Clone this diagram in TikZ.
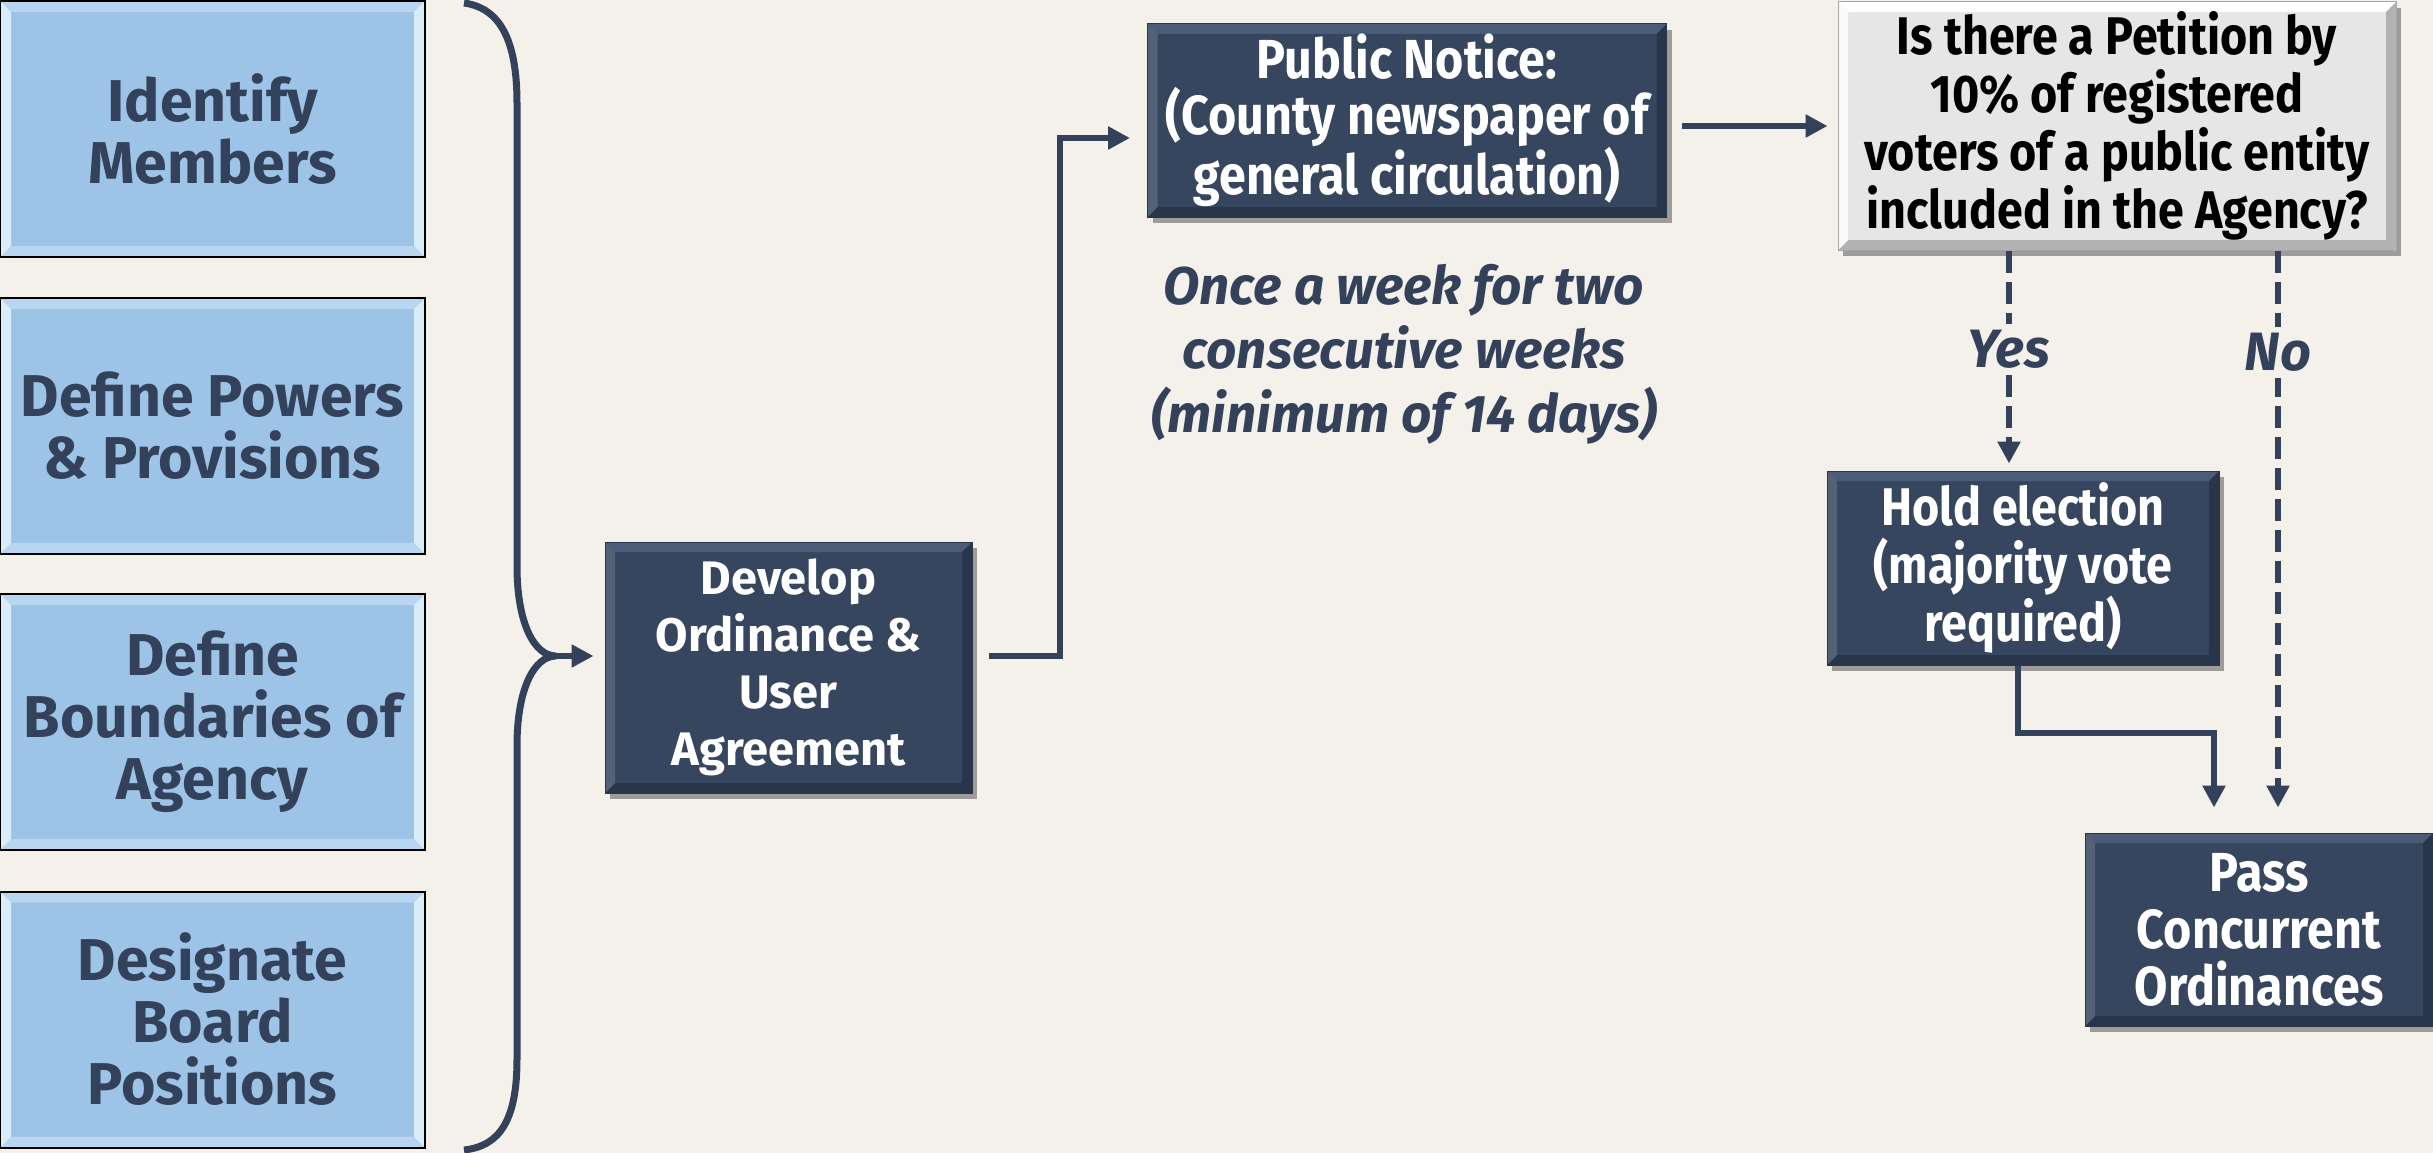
\documentclass[tikz,border=0pt]{standalone}
\usepackage{fontspec}
\setmainfont{Fira Sans}
\newfontfamily\condfont[FakeStretch=0.88]{Fira Sans}
\usetikzlibrary{arrows.meta,shadows,calc}
\definecolor{bg}{HTML}{F4F1EA}
\definecolor{navy}{HTML}{36465F}
\definecolor{navyhi}{HTML}{4B5C78}
\definecolor{navylo}{HTML}{28354A}
\definecolor{navyline}{HTML}{33425A}
\definecolor{lblue}{HTML}{9DC3E6}
\definecolor{lbluehi}{HTML}{B8D6F0}
\definecolor{lblueside}{HTML}{D8ECFA}
\definecolor{lgrey}{HTML}{E6E6E6}
\tikzset{
  bevel/.style n args={5}{path picture={
    \coordinate (pa) at (path picture bounding box.north west);
    \coordinate (pb) at (path picture bounding box.north east);
    \coordinate (pc) at (path picture bounding box.south east);
    \coordinate (pd) at (path picture bounding box.south west);
    \fill[#1] (pa) -- (pb) -- ([xshift=-#5,yshift=-#5]pb) -- ([xshift=#5,yshift=-#5]pa) -- cycle;
    \fill[#2] (pd) -- (pc) -- ([xshift=-#5,yshift=#5]pc) -- ([xshift=#5,yshift=#5]pd) -- cycle;
    \fill[#3] (pa) -- (pd) -- ([xshift=#5,yshift=#5]pd) -- ([xshift=#5,yshift=-#5]pa) -- cycle;
    \fill[#4] (pb) -- (pc) -- ([xshift=-#5,yshift=#5]pc) -- ([xshift=-#5,yshift=-#5]pb) -- cycle;
  }},
  leftbox/.style={fill=lblue, draw=black, line width=2pt, minimum width=425pt,
    minimum height=256pt, inner sep=0pt, align=center, text=navyline,
    font=\bfseries\fontsize{59}{62}\selectfont,
    bevel={lbluehi}{lbluehi}{lblueside}{lblueside}{11pt}},
  darkbox/.style={fill=navy, draw=navylo, line width=1pt, inner sep=0pt, align=center, text=white,
    drop shadow={shadow xshift=5pt, shadow yshift=-6pt, opacity=0.35, fill=black},
    bevel={navyhi}{navylo}{navy!85!white}{navylo}{10pt}},
  greybox/.style={fill=lgrey, draw=gray!70, line width=1pt, inner sep=0pt, align=center, text=black,
    drop shadow={shadow xshift=5pt, shadow yshift=-6pt, opacity=0.35, fill=black},
    bevel={white}{gray!60}{white!80!lgrey}{gray!60}{10pt}},
  conn/.style={draw=navyline, line width=6pt, -{Triangle[length=22pt,width=22pt]}},
  dconn/.style={conn, dash pattern=on 22pt off 9pt},
  brace/.style={draw=navyline, line width=7pt},
  note/.style={text=navyline, align=center, font=\bfseries\itshape\fontsize{53}{64}\selectfont},
  lbl/.style={text=navyline, fill=bg, inner sep=6pt, font=\bfseries\itshape\fontsize{54}{58}\selectfont}
}
\begin{document}
\begin{tikzpicture}[x=1pt,y=-1pt]
\fill[bg] (0,0) rectangle (2433,1153);
\useasboundingbox (0,0) rectangle (2433,1153);

% left column
\node[leftbox] (m1) at (212.5,129) {Identify\\Members};
\node[leftbox] (m2) at (212.5,426) {Define Powers\\\& Provisions};
\node[leftbox] (m3) at (212.5,722) {Define\\Boundaries of\\Agency};
\node[leftbox] (m4) at (212.5,1019.5) {Designate\\Board\\Positions};

% brace
\coordinate (bracetip) at (556,656);
\draw[brace] (464,3) .. controls (500,8) and (517,40) .. (517,103)
  -- (517,566) .. controls (517,625) and (535,656) .. (bracetip)
  .. controls (535,656) and (517,687) .. (517,746)
  -- (517,1059) .. controls (517,1120) and (500,1146) .. (464,1150);

% main boxes
\node[darkbox, minimum width=367pt, minimum height=251pt,
  font=\bfseries\fontsize{47}{57}\selectfont] (dev) at (788.5,667.5)
  {Develop\\Ordinance \&\\User\\Agreement};
\node[darkbox, minimum width=519pt, minimum height=193pt,
  font=\condfont\bfseries\fontsize{55}{56}\selectfont] (pub) at (1407,120.5)
  {Public Notice:\\(County newspaper of\\general circulation)};
\node[note] (wk) at (1404,354) {Once a week for two\\consecutive weeks\\(minimum of 14 days)};
\node[greybox, minimum width=558pt, minimum height=248pt,
  font=\condfont\bfseries\fontsize{53}{58}\selectfont] (pet) at (2117,126)
  {Is there a Petition by\\10\% of registered\\voters of a public entity\\included in the Agency?};
\node[darkbox, minimum width=392pt, minimum height=194pt,
  font=\condfont\bfseries\fontsize{53}{58}\selectfont] (hold) at (2023,568)
  {Hold election\\(majority vote\\required)};
\node[darkbox, minimum width=348pt, minimum height=193pt,
  font=\condfont\bfseries\fontsize{55}{57}\selectfont] (pass) at (2259,929.5)
  {Pass\\Concurrent\\Ordinances};

% connectors
\draw[conn, shorten >=11pt] (bracetip) -- (bracetip -| dev.west);
\coordinate (b1) at (1060,656);
\coordinate (b2) at (1060,138);
\draw[conn, shorten >=17pt] ([xshift=16pt]dev.east |- b1) -- (b1) -- (b2) -- (b2 -| pub.west);
\draw[conn, shorten >=10pt] ([xshift=15pt]pub.east |- pet.west) -- (pet.west);

\draw[dconn, shorten >=7pt] ([xshift=-14pt]hold.north |- pet.south) -- ([xshift=-14pt]hold.north)
  node[lbl, pos=0.45] (yes) {Yes};
\draw[dconn, shorten >=25pt] ([xshift=19pt]pass.north |- pet.south) -- ([xshift=19pt]pass.north)
  node[lbl, pos=0.175] (no) {No};

\coordinate (b3) at (2018,733);
\draw[conn, shorten >=25pt] (hold.south -| b3) -- (b3) -- ([xshift=-45pt]pass.north |- b3) -- ([xshift=-45pt]pass.north);
\end{tikzpicture}
\end{document}
